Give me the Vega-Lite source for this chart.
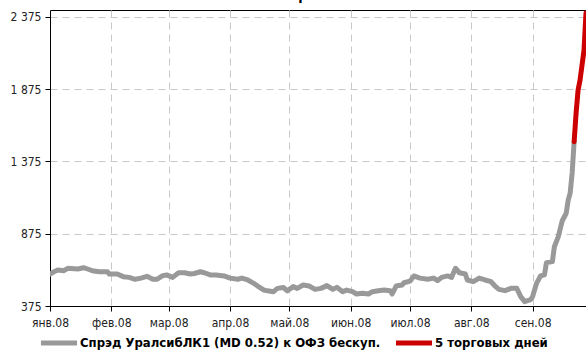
{
  "$schema": "https://vega.github.io/schema/vega-lite/v6.json",
  "width": 536,
  "height": 296,
  "autosize": {"type": "none"},
  "padding": {"left": 50, "top": 10, "right": 0, "bottom": 45},
  "background": "white",
  "title": {"text": "УралсибЛК1", "fontSize": 14, "fontWeight": "bold", "font": "Liberation Sans Narrow, DejaVu Sans Condensed, sans-serif", "dx": 16, "offset": 7, "color": "black"},
  "config": {
    "view": {"stroke": "black", "strokeWidth": 1},
    "font": "Liberation Sans Narrow, DejaVu Sans Condensed, sans-serif"
  },
  "data": {
    "values": [
      {"d": "2008-01-01", "v": 596, "s": "a"},
      {"d": "2008-01-03", "v": 612, "s": "a"},
      {"d": "2008-01-05", "v": 624, "s": "a"},
      {"d": "2008-01-08", "v": 619, "s": "a"},
      {"d": "2008-01-10", "v": 636, "s": "a"},
      {"d": "2008-01-15", "v": 631, "s": "a"},
      {"d": "2008-01-18", "v": 640, "s": "a"},
      {"d": "2008-01-20", "v": 631, "s": "a"},
      {"d": "2008-01-23", "v": 617, "s": "a"},
      {"d": "2008-01-26", "v": 612, "s": "a"},
      {"d": "2008-01-30", "v": 612, "s": "a"},
      {"d": "2008-01-31", "v": 596, "s": "a"},
      {"d": "2008-02-04", "v": 596, "s": "a"},
      {"d": "2008-02-07", "v": 578, "s": "a"},
      {"d": "2008-02-10", "v": 573, "s": "a"},
      {"d": "2008-02-13", "v": 560, "s": "a"},
      {"d": "2008-02-16", "v": 568, "s": "a"},
      {"d": "2008-02-19", "v": 580, "s": "a"},
      {"d": "2008-02-22", "v": 560, "s": "a"},
      {"d": "2008-02-24", "v": 560, "s": "a"},
      {"d": "2008-02-27", "v": 585, "s": "a"},
      {"d": "2008-02-29", "v": 590, "s": "a"},
      {"d": "2008-03-03", "v": 573, "s": "a"},
      {"d": "2008-03-06", "v": 605, "s": "a"},
      {"d": "2008-03-09", "v": 605, "s": "a"},
      {"d": "2008-03-12", "v": 596, "s": "a"},
      {"d": "2008-03-14", "v": 600, "s": "a"},
      {"d": "2008-03-17", "v": 612, "s": "a"},
      {"d": "2008-03-19", "v": 605, "s": "a"},
      {"d": "2008-03-22", "v": 590, "s": "a"},
      {"d": "2008-03-25", "v": 590, "s": "a"},
      {"d": "2008-03-29", "v": 583, "s": "a"},
      {"d": "2008-04-01", "v": 568, "s": "a"},
      {"d": "2008-04-05", "v": 560, "s": "a"},
      {"d": "2008-04-07", "v": 568, "s": "a"},
      {"d": "2008-04-10", "v": 555, "s": "a"},
      {"d": "2008-04-13", "v": 532, "s": "a"},
      {"d": "2008-04-15", "v": 513, "s": "a"},
      {"d": "2008-04-18", "v": 486, "s": "a"},
      {"d": "2008-04-20", "v": 480, "s": "a"},
      {"d": "2008-04-23", "v": 474, "s": "a"},
      {"d": "2008-04-25", "v": 497, "s": "a"},
      {"d": "2008-04-28", "v": 503, "s": "a"},
      {"d": "2008-04-30", "v": 480, "s": "a"},
      {"d": "2008-05-03", "v": 509, "s": "a"},
      {"d": "2008-05-05", "v": 497, "s": "a"},
      {"d": "2008-05-08", "v": 520, "s": "a"},
      {"d": "2008-05-11", "v": 513, "s": "a"},
      {"d": "2008-05-14", "v": 490, "s": "a"},
      {"d": "2008-05-17", "v": 497, "s": "a"},
      {"d": "2008-05-20", "v": 516, "s": "a"},
      {"d": "2008-05-23", "v": 490, "s": "a"},
      {"d": "2008-05-25", "v": 504, "s": "a"},
      {"d": "2008-05-28", "v": 474, "s": "a"},
      {"d": "2008-05-30", "v": 485, "s": "a"},
      {"d": "2008-06-02", "v": 474, "s": "a"},
      {"d": "2008-06-04", "v": 458, "s": "a"},
      {"d": "2008-06-07", "v": 463, "s": "a"},
      {"d": "2008-06-10", "v": 458, "s": "a"},
      {"d": "2008-06-12", "v": 474, "s": "a"},
      {"d": "2008-06-15", "v": 481, "s": "a"},
      {"d": "2008-06-18", "v": 485, "s": "a"},
      {"d": "2008-06-21", "v": 481, "s": "a"},
      {"d": "2008-06-22", "v": 458, "s": "a"},
      {"d": "2008-06-24", "v": 513, "s": "a"},
      {"d": "2008-06-27", "v": 520, "s": "a"},
      {"d": "2008-06-28", "v": 536, "s": "a"},
      {"d": "2008-07-01", "v": 547, "s": "a"},
      {"d": "2008-07-03", "v": 583, "s": "a"},
      {"d": "2008-07-06", "v": 568, "s": "a"},
      {"d": "2008-07-10", "v": 560, "s": "a"},
      {"d": "2008-07-13", "v": 568, "s": "a"},
      {"d": "2008-07-15", "v": 550, "s": "a"},
      {"d": "2008-07-17", "v": 573, "s": "a"},
      {"d": "2008-07-20", "v": 583, "s": "a"},
      {"d": "2008-07-22", "v": 573, "s": "a"},
      {"d": "2008-07-24", "v": 636, "s": "a"},
      {"d": "2008-07-26", "v": 605, "s": "a"},
      {"d": "2008-07-29", "v": 596, "s": "a"},
      {"d": "2008-07-30", "v": 555, "s": "a"},
      {"d": "2008-08-02", "v": 543, "s": "a"},
      {"d": "2008-08-05", "v": 568, "s": "a"},
      {"d": "2008-08-08", "v": 555, "s": "a"},
      {"d": "2008-08-11", "v": 543, "s": "a"},
      {"d": "2008-08-13", "v": 513, "s": "a"},
      {"d": "2008-08-15", "v": 490, "s": "a"},
      {"d": "2008-08-18", "v": 481, "s": "a"},
      {"d": "2008-08-21", "v": 497, "s": "a"},
      {"d": "2008-08-24", "v": 497, "s": "a"},
      {"d": "2008-08-26", "v": 440, "s": "a"},
      {"d": "2008-08-28", "v": 405, "s": "a"},
      {"d": "2008-08-31", "v": 419, "s": "a"},
      {"d": "2008-09-01", "v": 440, "s": "a"},
      {"d": "2008-09-03", "v": 532, "s": "a"},
      {"d": "2008-09-05", "v": 583, "s": "a"},
      {"d": "2008-09-07", "v": 590, "s": "a"},
      {"d": "2008-09-08", "v": 675, "s": "a"},
      {"d": "2008-09-11", "v": 682, "s": "a"},
      {"d": "2008-09-12", "v": 785, "s": "a"},
      {"d": "2008-09-14", "v": 855, "s": "a"},
      {"d": "2008-09-16", "v": 965, "s": "a"},
      {"d": "2008-09-18", "v": 1017, "s": "a"},
      {"d": "2008-09-19", "v": 1108, "s": "a"},
      {"d": "2008-09-20", "v": 1157, "s": "a"},
      {"d": "2008-09-21", "v": 1295, "s": "a"},
      {"d": "2008-09-22", "v": 1512, "s": "a"},
      {"d": "2008-09-22", "v": 1512, "s": "b"},
      {"d": "2008-09-23", "v": 1711, "s": "b"},
      {"d": "2008-09-24", "v": 1870, "s": "b"},
      {"d": "2008-09-25", "v": 1939, "s": "b"},
      {"d": "2008-09-27", "v": 2146, "s": "b"},
      {"d": "2008-09-28", "v": 2403, "s": "b"}
    ]
  },
  "mark": {"type": "line", "strokeWidth": 5, "strokeJoin": "round", "strokeCap": "round", "clip": true},
  "encoding": {
    "x": {
      "field": "d", "type": "temporal",
      "scale": {"type": "utc", "domain": [{"year": 2008, "month": 1, "date": 1, "utc": true}, {"year": 2008, "month": 9, "date": 28, "utc": true}], "nice": false},
      "axis": {
        "title": null,
        "values": [
          {"year": 2008, "month": 1, "date": 1, "utc": true},
          {"year": 2008, "month": 2, "date": 1, "utc": true},
          {"year": 2008, "month": 3, "date": 1, "utc": true},
          {"year": 2008, "month": 4, "date": 1, "utc": true},
          {"year": 2008, "month": 5, "date": 1, "utc": true},
          {"year": 2008, "month": 6, "date": 1, "utc": true},
          {"year": 2008, "month": 7, "date": 1, "utc": true},
          {"year": 2008, "month": 8, "date": 1, "utc": true},
          {"year": 2008, "month": 9, "date": 1, "utc": true}
        ],
        "labelExpr": "['янв','фев','мар','апр','май','июн','июл','авг','сен','окт','ноя','дек'][utcmonth(datum.value)] + '.08'",
        "labelFontSize": 12, "labelColor": "#222", "labelPadding": 6,
        "domainColor": "black", "tickColor": "black", "tickSize": 5,
        "grid": true, "gridColor": "#c8c8c8", "gridDash": [7, 5], "gridWidth": 1,
        "labelFlush": false, "labelOverlap": false
      }
    },
    "y": {
      "field": "v", "type": "quantitative",
      "scale": {"domain": [375, 2423], "nice": false, "zero": false},
      "axis": {
        "title": null,
        "values": [375, 875, 1375, 1875, 2375],
        "labelExpr": "replace(format(datum.value, ','), ',', ' ')",
        "labelFontSize": 12, "labelColor": "#222", "labelPadding": 4,
        "domainColor": "black", "tickColor": "black", "tickSize": 5,
        "grid": true, "gridColor": "#c8c8c8", "gridDash": [7, 5], "gridWidth": 1
      }
    },
    "color": {
      "field": "s", "type": "nominal",
      "scale": {"domain": ["a", "b"], "range": ["#999999", "#cc0000"]},
      "legend": {
        "title": null, "orient": "none", "direction": "horizontal",
        "legendX": -12, "legendY": 312,
        "labelExpr": "datum.value == 'a' ? 'Спрэд УралсибЛК1 (MD 0.52) к ОФЗ бескуп.' : '5 торговых дней'",
        "labelFontSize": 13, "labelFontWeight": "bold", "labelColor": "black", "labelLimit": 400,
        "symbolType": "stroke", "symbolSize": 1300, "symbolStrokeWidth": 5, "labelOffset": 0,
        "columnPadding": 4
      }
    }
  }
}
